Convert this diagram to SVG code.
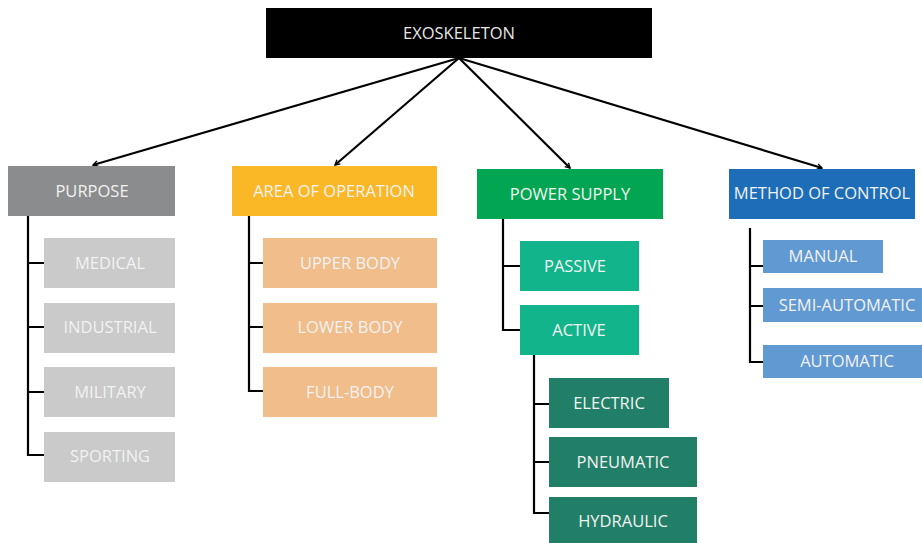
<svg xmlns="http://www.w3.org/2000/svg" width="922" height="543" viewBox="0 0 922 543">
<defs>
<marker id="ah" viewBox="0 0 10 10" refX="9" refY="5" markerWidth="6" markerHeight="6" markerUnits="userSpaceOnUse" orient="auto" overflow="visible">
<path d="M1,0.5 L9,5 L1,9.5" fill="none" stroke="#000" stroke-width="2.2" stroke-linejoin="miter"/>
</marker>
<style>
text{font-family:"Open Sans","Liberation Sans",sans-serif;font-size:16.5px;fill:#f2f2f2;text-anchor:middle;dominant-baseline:central}
.c line,.c path{stroke:#000;stroke-width:2.2;fill:none}
.a{marker-end:url(#ah)}
.top{fill:#000}
.pur{fill:#8b8c8d}
.purc{fill:#c9cac9}
.area{fill:#fbb826}
.areac{fill:#f0bd8b}
.pow{fill:#02a652}
.powc{fill:#12b58b}
.powg{fill:#217f67}
.met{fill:#1d6db8}
.metc{fill:#6199d2}
</style>
</defs>
<rect width="922" height="543" fill="#fff"/>
<g class="c" id="connectors">
<line class="a" x1="459" y1="58" x2="93" y2="165"/>
<line class="a" x1="459" y1="58" x2="335" y2="165"/>
<line class="a" x1="459" y1="58" x2="570" y2="168"/>
<line class="a" x1="459" y1="58" x2="822" y2="168"/>
<path d="M28,216 V455 H44 M28,263 H44 M28,327 H44 M28,392 H44"/>
<path d="M249,216 V391 H263 M249,263 H263 M249,327 H263"/>
<path d="M503,219 V330 H520 M503,266 H520"/>
<path d="M534,355 V513 H549 M534,404 H549 M534,462 H549"/>
<path d="M750,228 V362 H763 M750,266 H763 M750,306 H763"/>
</g>
<g id="exoskeleton"><rect class="top" x="266" y="8" width="386" height="50"/><text x="459" y="32" style="fill:#e6e6e6">EXOSKELETON</text></g>
<g id="purpose"><rect class="pur" x="8" y="166" width="167" height="50"/><text x="92" y="190">PURPOSE</text></g>
<g id="medical"><rect class="purc" x="44" y="238" width="131" height="50"/><text x="110" y="262">MEDICAL</text></g>
<g id="industrial"><rect class="purc" x="44" y="303" width="131" height="50"/><text x="110" y="326">INDUSTRIAL</text></g>
<g id="military"><rect class="purc" x="44" y="367" width="131" height="50"/><text x="110" y="391">MILITARY</text></g>
<g id="sporting"><rect class="purc" x="44" y="432" width="131" height="50"/><text x="110" y="455">SPORTING</text></g>
<g id="area"><rect class="area" x="232" y="166" width="205" height="50"/><text x="334" y="190">AREA OF OPERATION</text></g>
<g id="upper"><rect class="areac" x="263" y="238" width="174" height="50"/><text x="350" y="262">UPPER BODY</text></g>
<g id="lower"><rect class="areac" x="263" y="303" width="174" height="50"/><text x="350" y="326">LOWER BODY</text></g>
<g id="full"><rect class="areac" x="263" y="367" width="174" height="50"/><text x="350" y="391">FULL-BODY</text></g>
<g id="power"><rect class="pow" x="477" y="169" width="186" height="50"/><text x="570" y="193">POWER SUPPLY</text></g>
<g id="passive"><rect class="powc" x="520" y="241" width="119" height="50"/><text x="575" y="265">PASSIVE</text></g>
<g id="active"><rect class="powc" x="520" y="305" width="119" height="50"/><text x="579" y="329">ACTIVE</text></g>
<g id="electric"><rect class="powg" x="549" y="378" width="120" height="50"/><text x="609" y="402">ELECTRIC</text></g>
<g id="pneumatic"><rect class="powg" x="549" y="437" width="148" height="50"/><text x="623" y="461">PNEUMATIC</text></g>
<g id="hydraulic"><rect class="powg" x="549" y="497" width="148" height="50"/><text x="623" y="520">HYDRAULIC</text></g>
<g id="method"><rect class="met" x="729" y="169" width="186" height="50"/><text x="822" y="192">METHOD OF CONTROL</text></g>
<g id="manual"><rect class="metc" x="763" y="240" width="120" height="33"/><text x="823" y="255">MANUAL</text></g>
<g id="semi"><rect class="metc" x="763" y="288" width="165" height="34"/><text x="847" y="304">SEMI-AUTOMATIC</text></g>
<g id="automatic"><rect class="metc" x="763" y="345" width="165" height="33"/><text x="847" y="360">AUTOMATIC</text></g>
</svg>
